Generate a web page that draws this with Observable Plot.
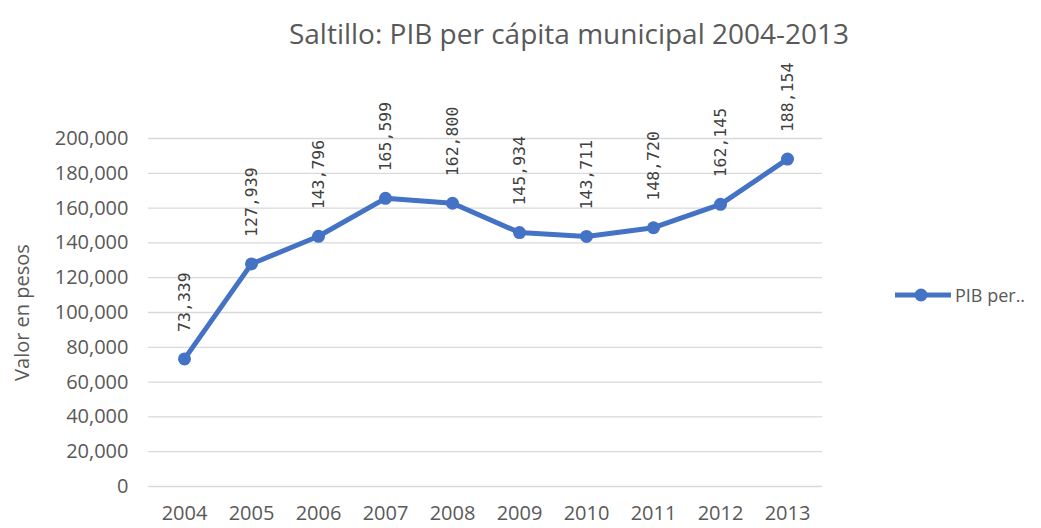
<!DOCTYPE html>
<html><head><meta charset="utf-8">
<script src="https://cdn.jsdelivr.net/npm/d3@7"></script>
<script src="https://cdn.jsdelivr.net/npm/@observablehq/plot@0.6"></script>
<style>
body{margin:0;background:#fff;font-family:"Open Sans",sans-serif;}
#wrap{position:relative;width:1041px;height:528px;}
#title{height:60px;line-height:66px;text-align:center;font-size:28px;color:#595959;padding-left:97px;box-sizing:border-box;}
#legend{position:absolute;left:893px;top:283px;display:flex;align-items:center;font-size:18px;color:#595959;}
</style></head>
<body><div id="wrap"><div id="title">Saltillo: PIB per cápita municipal 2004-2013</div><div id="chart"></div><div id="legend"></div></div>
<script>
const years = ["2004","2005","2006","2007","2008","2009","2010","2011","2012","2013"];
const values = [73339,127939,143796,165599,162800,145934,143711,148720,162145,188154];
const yTicks = [0,20000,40000,60000,80000,100000,120000,140000,160000,180000,200000];
const seriesName = "PIB per..";
const lineColor = "#4472C4";

const data = years.map((y,i)=>({year:y,value:values[i]}));
const fmt = d3.format(",");
const chart = Plot.plot({
  width:1041, height:468,
  marginLeft:148, marginRight:219, marginTop:78, marginBottom:42,
  style:{fontFamily:"'Open Sans', sans-serif", fontSize:"20px", color:"#595959", background:"#fff"},
  x:{type:"point", domain:years, padding:0.5, label:null},
  y:{domain:[0,200000], label:"Valor en pesos"},
  marks:[
    Plot.gridY(yTicks,{stroke:"#d9d9d9", strokeOpacity:1, strokeWidth:1.3}),
    Plot.axisX({tickSize:0, tickPadding:19, label:null}),
    Plot.axisY(yTicks,{tickSize:0, tickPadding:20, tickFormat:fmt, label:null}),
    Plot.axisY({ticks:[], tickSize:0, label:"Valor en pesos", labelAnchor:"center", labelOffset:134, labelArrow:"none"}),
    Plot.line(data,{x:"year", y:"value", stroke:lineColor, strokeWidth:5}),
    Plot.dot(data,{x:"year", y:"value", fill:lineColor, r:6.5}),
    Plot.text(data,{x:"year", y:"value", text:d=>fmt(d.value), rotate:-90, textAnchor:"start", dy:-27, fill:"#404040", fontSize:16.5, fontFamily:"'DejaVu Sans Mono', monospace"})
  ]
});
document.getElementById("chart").appendChild(chart);

const leg = d3.select("#legend");
const ls = leg.append("svg").attr("width",60).attr("height",24);
ls.append("line").attr("x1",2).attr("x2",58).attr("y1",12).attr("y2",12).attr("stroke",lineColor).attr("stroke-width",5);
ls.append("circle").attr("cx",28).attr("cy",12).attr("r",6.5).attr("fill",lineColor);
leg.append("span").style("margin-left","2px").text(seriesName);
</script></body></html>
